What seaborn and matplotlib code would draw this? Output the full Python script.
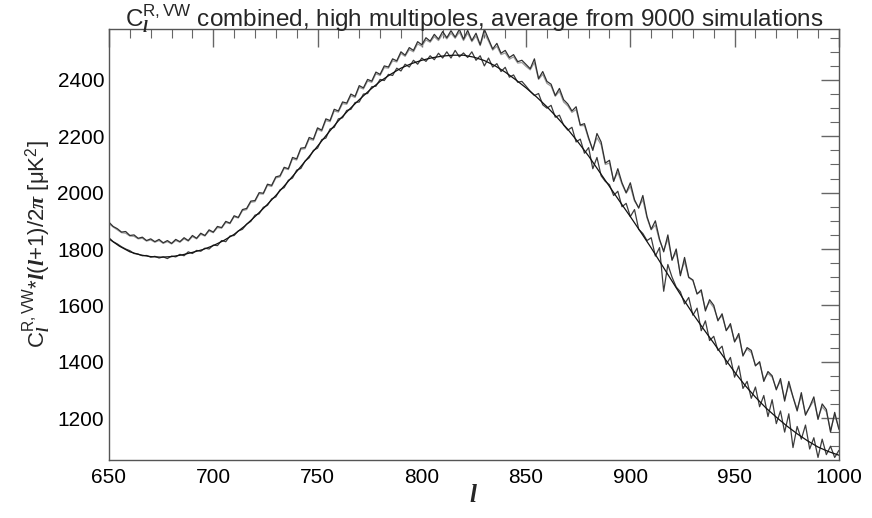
import numpy as np
import pandas as pd
import matplotlib
matplotlib.use("Agg")
import matplotlib.pyplot as plt
import seaborn as sns
from matplotlib.ticker import MultipleLocator

# ---------------- data ----------------
ell_smooth = list(range(650, 1001, 5))
theory = [1836, 1810, 1790, 1779, 1773, 1771, 1773, 1779, 1788, 1798,
          1812, 1830, 1852, 1881, 1915, 1951, 1990, 2032, 2075, 2120,
          2165, 2211, 2255, 2294, 2330, 2364, 2395, 2420, 2442, 2458,
          2470, 2479, 2485, 2488, 2488, 2481, 2469, 2451, 2428, 2401,
          2372, 2340, 2305, 2266, 2225, 2179, 2130, 2076, 2022, 1968,
          1915, 1860, 1804, 1745, 1686, 1627, 1570, 1517, 1466, 1414,
          1363, 1316, 1274, 1236, 1203, 1172, 1144, 1119, 1097, 1081,
          1068]

ell = list(range(650, 1001, 2))
lower_sim = [1840, 1826, 1818, 1808, 1800, 1794, 1784, 1782, 1776, 1777,
             1771, 1774, 1768, 1772, 1766, 1775, 1772, 1781, 1776, 1790,
             1784, 1795, 1792, 1803, 1800, 1814, 1812, 1830, 1826, 1846,
             1848, 1864, 1870, 1888, 1898, 1920, 1925, 1948, 1955, 1978,
             1985, 2010, 2018, 2044, 2052, 2080, 2086, 2112, 2124, 2150,
             2158, 2188, 2194, 2226, 2232, 2262, 2266, 2292, 2296, 2320,
             2322, 2350, 2352, 2376, 2378, 2402, 2398, 2420, 2416, 2442,
             2432, 2456, 2446, 2470, 2456, 2478, 2466, 2486, 2472, 2495,
             2478, 2500, 2478, 2505, 2482, 2496, 2480, 2500, 2470, 2486,
             2450, 2478, 2446, 2458, 2430, 2445, 2410, 2418, 2392, 2395,
             2378, 2360, 2345, 2352, 2312, 2300, 2310, 2268, 2275, 2240,
             2222, 2232, 2180, 2190, 2140, 2160, 2085, 2125, 2060, 2040,
             2028, 1990, 2005, 1950, 1962, 1915, 1940, 1870, 1855, 1830,
             1840, 1775, 1805, 1650, 1745, 1700, 1665, 1648, 1605, 1628,
             1565, 1590, 1510, 1545, 1475, 1490, 1440, 1455, 1390, 1415,
             1345, 1385, 1305, 1330, 1270, 1310, 1240, 1280, 1205, 1265,
             1180, 1225, 1150, 1215, 1095, 1170, 1125, 1175, 1090, 1130,
             1060, 1125, 1070, 1100, 1060, 1085]

upper_dark = [1895, 1880, 1872, 1860, 1862, 1848, 1850, 1838, 1842, 1830,
              1836, 1826, 1834, 1822, 1830, 1820, 1834, 1826, 1840, 1830,
              1848, 1838, 1856, 1848, 1868, 1860, 1880, 1876, 1898, 1892,
              1918, 1912, 1940, 1944, 1970, 1972, 2000, 1998, 2030, 2026,
              2056, 2060, 2090, 2085, 2125, 2120, 2158, 2160, 2196, 2190,
              2230, 2222, 2262, 2256, 2296, 2290, 2322, 2318, 2350, 2342,
              2380, 2372, 2402, 2396, 2428, 2420, 2450, 2446, 2475, 2468,
              2500, 2488, 2515, 2505, 2536, 2525, 2550, 2538, 2562, 2545,
              2572, 2550, 2575, 2552, 2580, 2545, 2576, 2540, 2566, 2525,
              2580, 2545, 2510, 2530, 2495, 2505, 2480, 2490, 2465, 2470,
              2455, 2440, 2475, 2405, 2430, 2395, 2385, 2345, 2370, 2330,
              2315, 2290, 2305, 2240, 2245, 2195, 2150, 2210, 2180, 2105,
              2115, 2040, 2085, 2035, 2000, 2035, 1975, 1945, 1990, 1915,
              1870, 1900, 1835, 1790, 1850, 1760, 1800, 1705, 1770, 1700,
              1690, 1640, 1655, 1580, 1620, 1600, 1545, 1570, 1510, 1535,
              1470, 1500, 1420, 1450, 1440, 1385, 1400, 1330, 1365, 1350,
              1300, 1340, 1260, 1330, 1275, 1225, 1290, 1210, 1240, 1275,
              1195, 1250, 1230, 1150, 1220, 1160]

upper_gray = [1890, 1878, 1868, 1858, 1856, 1846, 1845, 1836, 1838, 1828,
              1832, 1824, 1830, 1820, 1826, 1818, 1830, 1824, 1836, 1828,
              1844, 1836, 1852, 1846, 1864, 1858, 1876, 1874, 1894, 1890,
              1914, 1910, 1936, 1940, 1966, 1968, 1996, 1995, 2026, 2022,
              2052, 2056, 2086, 2082, 2120, 2116, 2154, 2156, 2190, 2186,
              2225, 2218, 2256, 2252, 2290, 2286, 2316, 2314, 2344, 2338,
              2374, 2368, 2396, 2392, 2422, 2416, 2444, 2442, 2468, 2464,
              2494, 2484, 2508, 2500, 2528, 2520, 2542, 2534, 2554, 2540,
              2562, 2546, 2566, 2548, 2570, 2540, 2566, 2536, 2556, 2522,
              2566, 2538, 2506, 2520, 2490, 2496, 2474, 2482, 2460, 2462,
              2448, 2436, 2462, 2402, 2420, 2388, 2378, 2342, 2360, 2322,
              2308, 2285, 2295, 2238, 2238, 2190, 2155, 2195, 2170, 2100,
              2105, 2042, 2072, 2030, 1998, 2022, 1970, 1948, 1975, 1910,
              1868, 1885, 1830, 1795, 1835, 1762, 1788, 1712, 1755, 1698,
              1688, 1642, 1648, 1588, 1612, 1592, 1550, 1562, 1512, 1528,
              1472, 1490, 1425, 1445, 1432, 1388, 1395, 1338, 1358, 1345,
              1305, 1330, 1268, 1318, 1275, 1232, 1278, 1215, 1238, 1262,
              1200, 1240, 1222, 1158, 1210, 1165]

x_ticks = [650, 700, 750, 800, 850, 900, 950, 1000]
y_ticks = [1200, 1400, 1600, 1800, 2000, 2200, 2400]

# ---------------- style ----------------
sns.set_style("white")
plt.rcParams['font.family'] = ['Liberation Sans', 'DejaVu Sans']
plt.rcParams['mathtext.fontset'] = 'custom'
plt.rcParams['mathtext.rm'] = 'Liberation Sans'
plt.rcParams['mathtext.it'] = 'Liberation Serif:italic:bold'
plt.rcParams['mathtext.bf'] = 'Liberation Sans:bold'

fig = plt.figure(figsize=(8.72, 5.18), dpi=100)
ax = fig.add_axes([0.125, 0.112, 0.962 - 0.125, 0.944 - 0.112])

df_th = pd.DataFrame({'l': ell_smooth, 'v': theory})
df_sim = pd.DataFrame({'l': ell, 'lower': lower_sim, 'ud': upper_dark, 'ug': upper_gray})

sns.lineplot(data=df_sim, x='l', y='ug', ax=ax, color='#9a9a9a', lw=0.9)
sns.lineplot(data=df_sim, x='l', y='ud', ax=ax, color='#303030', lw=0.9)
sns.lineplot(data=df_sim, x='l', y='lower', ax=ax, color='#3c3c3c', lw=0.9)
sns.lineplot(data=df_th, x='l', y='v', ax=ax, color='#111111', lw=0.9)

ax.set_xlim(650, 1000)
ax.set_ylim(1051, 2581)
ax.set_xticks(x_ticks)
ax.set_xticklabels([str(t) for t in x_ticks])
ax.set_yticks(y_ticks)
ax.set_yticklabels([str(t) for t in y_ticks])
ax.xaxis.set_minor_locator(MultipleLocator(10))
ax.yaxis.set_minor_locator(MultipleLocator(50))

for s in ax.spines.values():
    s.set_color('#555555')
    s.set_linewidth(1.0)

ax.tick_params(axis='both', which='both', direction='in', top=True, right=True,
               colors='#666666', labelcolor='black', labelsize=15)
ax.tick_params(axis='both', which='major', length=13, width=1.0)
ax.tick_params(axis='both', which='minor', length=6.5, width=0.8)
ax.tick_params(axis='x', which='major', pad=6)

ax.set_title(r'$\mathrm{C}_{l}^{\mathrm{R,VW}}$ combined, high multipoles, average from 9000 simulations',
             fontsize=17.5, pad=1)
ax.set_xlabel(r'$l$', fontsize=18, labelpad=-3)
ax.set_ylabel(r'$\mathrm{C}_{l}^{\mathrm{R,VW}}$*$\mathit{l(l{+}1)/2\pi}$ [$\mathrm{\mu}$K$^2$]',
              fontsize=16, labelpad=3)

fig.savefig('out.png', dpi=100)
